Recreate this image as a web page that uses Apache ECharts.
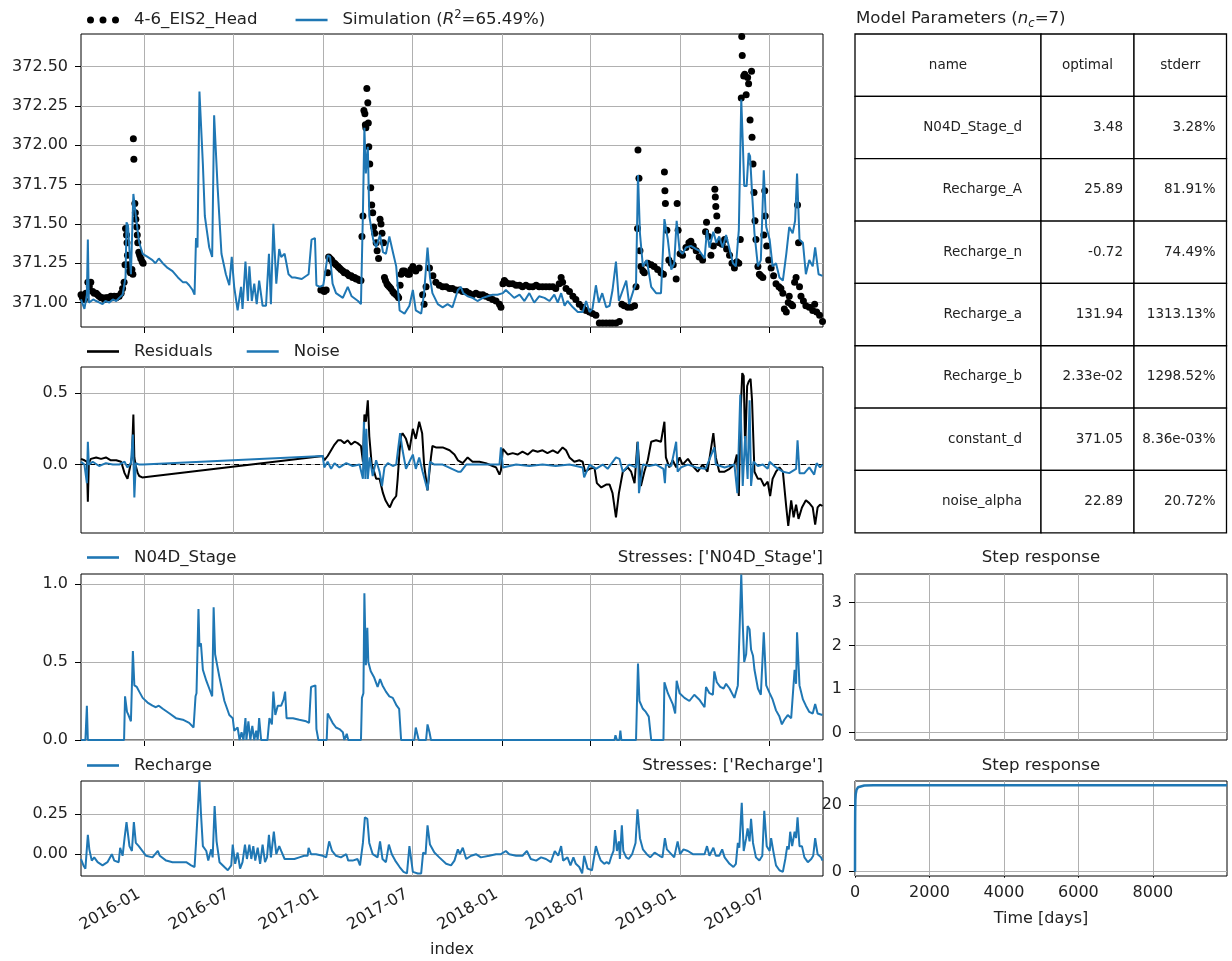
<!DOCTYPE html>
<html><head><meta charset="utf-8">
<script src="https://cdn.jsdelivr.net/npm/echarts@6/dist/echarts.min.js"></script>
<style>html,body{margin:0;padding:0;background:#fff}#c{width:1232px;height:961px}</style>
</head><body><div id="c"></div>
<script>
// ---------------- DATA ----------------
const START = '2015-08-25';   // first day of the series (day offset 0)
const END_DAY = 1516;         // last day offset (2019-10-19)
const xTickDates = ['2016-01-01','2016-07-01','2017-01-01','2017-07-01','2018-01-01','2018-07-01','2019-01-01','2019-07-01'];
const headTicks = [371.00,371.25,371.50,371.75,372.00,372.25,372.50];
const resTicks = [0.0,0.5];
const stageTicks = [0.0,0.5,1.0];
const rechTicks = [0.00,0.25];
const stepTimeTicks = [0,2000,4000,6000,8000];
const step1Ticks = [0,1,2,3];
const step2Ticks = [0,20];

// observations [dayOffset, head]
const obsPts = [[0,371.05],[3,371.03],[7,371.02],[10,371.06],[14,371.13],[17,371.10],[20,371.13],[24,371.07],[27,371.06],[31,371.06],[34,371.05],[37,371.04],[41,371.03],[44,371.03],[48,371.02],[51,371.03],[54,371.03],[58,371.03],[61,371.04],[65,371.03],[68,371.04],[72,371.03],[75,371.04],[78,371.04],[82,371.06],[85,371.09],[88,371.13],[90,371.24],[91,371.47],[93,371.43],[94,371.38],[95,371.30],[97,371.24],[99,371.20],[101,371.19],[104,371.21],[106,371.18],[107,372.04],[108,371.91],[110,371.63],[111,371.57],[112,371.53],[114,371.48],[115,371.43],[116,371.38],[118,371.32],[120,371.30],[122,371.28],[125,371.26],[127,371.25],
[490,371.08],[494,371.08],[497,371.07],[501,371.08],[504,371.19],[506,371.29],[509,371.28],[512,371.27],[514,371.26],[518,371.25],[521,371.24],[525,371.23],[528,371.22],[531,371.21],[535,371.20],[538,371.19],[542,371.19],[545,371.18],[548,371.17],[552,371.17],[555,371.16],[559,371.16],[562,371.15],[565,371.15],[569,371.14],[572,371.14],[574,371.42],[576,371.55],[578,372.22],[580,372.20],[581,372.13],[582,372.11],[584,372.36],[586,372.27],[587,372.14],[588,371.99],[590,371.88],[592,371.73],[594,371.62],[596,371.57],[598,371.48],[600,371.44],[603,371.38],[605,371.33],[608,371.28],[611,371.53],[613,371.50],[615,371.44],[618,371.38],[620,371.16],[622,371.14],[625,371.12],[627,371.11],[630,371.10],[633,371.09],[637,371.07],[640,371.06],[644,371.05],[647,371.04],[649,371.03],[652,371.11],[654,371.18],[657,371.20],[661,371.20],[664,371.19],[668,371.18],[671,371.18],[674,371.21],[678,371.23],[684,371.20],[691,371.22],[698,371.05],[701,370.99],[705,371.10],[712,371.22],[719,371.17],[725,371.13],[732,371.11],[739,371.10],[746,371.10],[753,371.09],[759,371.09],[766,371.08],[773,371.08],[780,371.07],[787,371.07],[793,371.06],[800,371.05],[807,371.06],[814,371.05],[821,371.05],[827,371.04],[834,371.03],[841,371.02],[848,371.01],[855,370.99],[858,370.97],[862,371.12],[865,371.14],[868,371.13],[875,371.12],[882,371.12],[889,371.11],[896,371.11],[902,371.10],[909,371.11],[916,371.10],[923,371.10],[930,371.11],[936,371.10],[943,371.10],[950,371.10],[957,371.10],[964,371.10],[970,371.09],[977,371.12],[981,371.16],[984,371.13],[991,371.09],[998,371.07],[1005,371.04],[1011,371.02],[1018,370.99],[1025,370.97],[1032,370.95],[1039,370.94],[1045,370.93],[1052,370.92],[1059,370.87],[1066,370.87],[1073,370.87],[1080,370.87],[1086,370.87],[1093,370.87],[1100,370.88],[1105,370.99],[1110,370.98],[1117,370.97],[1124,370.97],[1131,370.98],[1134,371.10],[1137,371.47],[1138,371.97],[1140,371.79],[1142,371.33],[1144,371.23],[1148,371.20],[1151,371.19],[1158,371.25],[1165,371.24],[1171,371.23],[1178,371.21],[1185,371.19],[1190,371.18],[1192,371.83],[1193,371.71],[1194,371.63],[1197,371.46],[1201,371.27],[1206,371.25],[1210,371.24],[1216,371.15],[1218,371.63],[1220,371.46],[1224,371.31],[1229,371.30],[1236,371.35],[1242,371.38],[1246,371.39],[1251,371.36],[1257,371.33],[1263,371.29],[1270,371.27],[1276,371.45],[1278,371.51],[1282,371.42],[1287,371.30],[1292,371.36],[1295,371.72],[1296,371.67],[1297,371.61],[1299,371.55],[1301,371.46],[1304,371.38],[1310,371.37],[1315,371.40],[1319,371.34],[1325,371.30],[1330,371.25],[1335,371.22],[1340,371.26],[1344,371.25],[1347,371.40],[1349,372.30],[1350,372.69],[1351,372.57],[1354,372.44],[1356,372.45],[1359,372.32],[1362,372.43],[1364,372.39],[1367,372.16],[1370,372.47],[1371,372.05],[1373,371.88],[1375,371.70],[1377,371.52],[1379,371.40],[1383,371.23],[1386,371.18],[1389,371.17],[1393,371.16],[1395,371.43],[1397,371.71],[1398,371.55],[1401,371.36],[1405,371.27],[1410,371.22],[1415,371.17],[1420,371.12],[1426,371.10],[1430,371.09],[1434,371.06],[1437,370.96],[1441,370.94],[1445,371.00],[1447,371.04],[1451,370.99],[1454,370.98],[1458,371.13],[1461,371.16],[1464,371.62],[1466,371.38],[1468,371.10],[1471,371.04],[1476,371.01],[1481,370.98],[1488,370.97],[1495,370.95],[1499,370.99],[1503,370.94],[1509,370.92],[1515,370.88]];

// simulation [dayOffset, head]
const simPts = [[0,371.02],[7,370.96],[12,371.05],[14,371.40],[16,371.00],[20,370.99],[25,371.02],[31,371.01],[38,371.00],[44,370.99],[50,371.01],[58,371.00],[65,371.02],[72,371.01],[78,371.03],[85,371.05],[91,371.16],[93,371.51],[96,371.49],[99,371.48],[102,371.18],[107,371.69],[112,371.55],[119,371.38],[126,371.31],[136,371.29],[146,371.27],[152,371.25],[159,371.28],[167,371.25],[177,371.22],[187,371.20],[198,371.16],[208,371.13],[215,371.13],[221,371.11],[228,371.08],[232,371.05],[235,371.41],[238,371.35],[242,372.34],[249,371.88],[253,371.55],[257,371.46],[262,371.35],[268,371.29],[272,372.19],[279,371.74],[287,371.31],[296,371.18],[303,371.11],[308,371.29],[313,371.10],[320,370.95],[327,371.10],[330,370.96],[336,371.26],[341,371.01],[344,371.23],[349,371.01],[354,371.12],[359,370.99],[364,371.14],[371,370.98],[378,370.98],[384,371.31],[388,370.99],[393,371.50],[399,371.12],[405,371.34],[409,371.29],[416,371.31],[424,371.18],[431,371.16],[437,371.16],[451,371.15],[465,371.18],[471,371.40],[478,371.41],[481,371.11],[488,371.10],[495,371.11],[504,371.30],[509,371.29],[514,371.12],[521,371.06],[535,371.03],[545,371.10],[553,371.04],[566,371.01],[572,370.99],[576,371.57],[579,372.11],[582,371.82],[586,371.99],[589,371.55],[597,371.40],[603,371.35],[611,371.43],[617,371.32],[623,371.31],[630,371.42],[638,371.31],[644,371.23],[651,370.95],[661,370.93],[671,370.98],[678,371.08],[684,370.95],[695,370.93],[701,371.06],[708,371.35],[713,371.16],[718,371.06],[729,370.99],[739,370.97],[749,370.99],[759,370.97],[770,371.08],[776,371.10],[781,371.06],[790,371.04],[800,371.03],[810,371.01],[821,371.03],[831,371.04],[841,371.05],[851,371.05],[862,371.06],[868,371.08],[875,371.06],[885,371.03],[896,371.05],[906,371.01],[916,371.06],[926,371.00],[936,371.04],[947,371.03],[957,371.01],[967,371.05],[974,371.00],[981,371.06],[988,370.98],[994,371.01],[1005,370.97],[1015,370.94],[1025,370.94],[1032,371.01],[1039,370.94],[1045,370.96],[1052,371.11],[1058,371.00],[1065,371.06],[1073,370.97],[1080,370.98],[1086,371.08],[1093,371.26],[1099,371.01],[1107,371.08],[1114,371.14],[1120,370.99],[1129,371.08],[1134,371.12],[1138,371.81],[1142,371.44],[1148,371.23],[1156,371.27],[1165,371.10],[1175,371.06],[1185,371.06],[1192,371.53],[1199,371.40],[1206,371.21],[1212,371.25],[1217,371.52],[1223,371.33],[1229,371.31],[1236,371.35],[1246,371.36],[1257,371.34],[1263,371.33],[1274,371.28],[1279,371.46],[1284,371.35],[1292,371.45],[1298,371.38],[1304,371.42],[1311,371.35],[1318,371.43],[1325,371.34],[1332,371.25],[1338,371.23],[1344,371.46],[1349,372.29],[1352,372.03],[1355,371.74],[1360,371.74],[1364,371.95],[1367,371.93],[1371,371.70],[1376,371.44],[1383,371.23],[1389,371.27],[1395,371.84],[1400,371.48],[1407,371.40],[1413,371.23],[1420,371.25],[1427,371.16],[1434,371.14],[1441,371.31],[1447,371.48],[1454,371.44],[1459,371.52],[1463,371.82],[1468,371.40],[1475,371.38],[1481,371.18],[1488,371.27],[1495,371.23],[1500,371.35],[1507,371.18],[1515,371.17]];

// residuals [dayOffset, value]
const residPts = [[0,0.04],[7,0.03],[12,0.02],[14,-0.26],[16,0.01],[20,0.04],[31,0.05],[41,0.04],[51,0.05],[61,0.03],[72,0.03],[82,0.02],[89,-0.06],[95,-0.10],[100,-0.02],[104,0.05],[107,0.35],[109,0.05],[112,-0.01],[116,-0.06],[119,-0.08],[125,-0.09],[127,-0.09],[494,0.06],[497,0.03],[504,0.06],[511,0.10],[518,0.14],[525,0.17],[531,0.17],[538,0.15],[545,0.17],[552,0.14],[559,0.16],[565,0.15],[572,0.13],[576,0.02],[579,0.35],[582,0.30],[586,0.45],[589,0.20],[594,0.00],[599,-0.05],[603,-0.10],[610,-0.10],[617,-0.20],[622,-0.25],[627,-0.28],[631,-0.30],[637,-0.25],[644,-0.22],[647,-0.10],[651,0.10],[654,0.20],[657,0.22],[664,0.18],[671,0.10],[678,0.25],[684,0.18],[691,0.30],[697,0.22],[701,0.00],[708,-0.18],[715,0.05],[718,0.13],[725,0.12],[739,0.12],[753,0.10],[763,0.07],[770,0.03],[780,0.01],[790,0.05],[800,0.02],[814,0.02],[827,0.01],[841,-0.01],[848,-0.02],[855,-0.07],[858,-0.04],[862,0.11],[872,0.07],[882,0.08],[892,0.07],[902,0.09],[913,0.07],[923,0.10],[933,0.09],[943,0.10],[953,0.08],[964,0.10],[974,0.08],[984,0.12],[991,0.10],[998,0.05],[1008,0.02],[1018,0.03],[1025,0.02],[1030,-0.05],[1039,-0.03],[1049,-0.02],[1054,-0.13],[1063,-0.16],[1073,-0.14],[1080,-0.14],[1086,-0.20],[1093,-0.37],[1099,-0.20],[1107,-0.05],[1117,-0.02],[1124,-0.05],[1131,-0.13],[1137,0.16],[1144,-0.15],[1151,-0.05],[1158,0.03],[1165,0.16],[1175,0.17],[1185,0.16],[1192,0.30],[1195,0.05],[1202,-0.02],[1209,0.03],[1216,-0.02],[1223,0.05],[1229,0.00],[1240,0.04],[1250,-0.01],[1260,-0.05],[1270,0.00],[1280,-0.05],[1292,0.22],[1297,0.05],[1304,-0.05],[1315,-0.05],[1325,-0.03],[1335,0.00],[1340,0.07],[1344,-0.22],[1347,0.30],[1351,0.64],[1354,0.62],[1357,0.10],[1361,0.55],[1364,0.58],[1368,0.60],[1371,0.45],[1376,-0.05],[1383,-0.10],[1389,-0.10],[1396,-0.15],[1403,-0.12],[1408,-0.22],[1413,-0.10],[1420,-0.05],[1427,-0.02],[1434,-0.05],[1441,-0.30],[1445,-0.43],[1451,-0.25],[1456,-0.37],[1461,-0.28],[1466,-0.38],[1473,-0.30],[1481,-0.25],[1488,-0.27],[1495,-0.30],[1500,-0.42],[1505,-0.30],[1510,-0.28],[1515,-0.29]];

// noise [dayOffset, value]
const noisePts = [[0,0.02],[7,0.00],[12,-0.13],[14,0.16],[16,0.00],[24,0.02],[37,-0.01],[51,0.01],[65,0.00],[78,0.00],[89,0.02],[95,-0.02],[102,0.01],[106,0.21],[109,-0.23],[112,0.01],[119,0.00],[127,0.00],[494,0.06],[497,-0.02],[504,0.02],[511,-0.03],[518,0.01],[528,-0.02],[542,0.01],[555,-0.01],[569,0.00],[576,-0.10],[578,0.30],[581,-0.10],[583,0.25],[586,-0.10],[590,0.05],[596,-0.08],[603,0.03],[610,-0.05],[615,-0.15],[620,-0.02],[627,0.01],[637,-0.01],[644,0.00],[649,0.14],[652,0.22],[657,0.10],[664,-0.03],[671,0.02],[678,0.07],[684,-0.03],[691,0.05],[698,-0.05],[708,-0.18],[713,0.02],[722,0.00],[739,0.00],[770,-0.05],[776,-0.05],[787,0.00],[807,0.00],[834,0.00],[855,0.00],[858,0.12],[862,-0.02],[889,0.00],[916,-0.01],[943,0.00],[970,-0.01],[998,0.00],[1025,-0.02],[1028,-0.09],[1039,0.00],[1052,-0.03],[1066,0.00],[1076,-0.03],[1093,0.05],[1100,0.04],[1107,-0.05],[1120,0.00],[1134,-0.02],[1138,0.16],[1140,-0.20],[1148,0.00],[1161,-0.01],[1175,0.00],[1190,-0.03],[1193,-0.13],[1195,0.00],[1206,-0.01],[1216,0.16],[1219,-0.05],[1226,-0.02],[1240,0.00],[1257,-0.02],[1276,-0.03],[1294,0.12],[1297,0.00],[1315,-0.02],[1335,0.00],[1341,-0.20],[1347,0.49],[1352,-0.15],[1357,0.20],[1362,-0.10],[1366,0.45],[1369,-0.15],[1374,0.02],[1383,-0.01],[1393,0.00],[1403,-0.03],[1407,0.02],[1420,-0.02],[1434,-0.05],[1447,-0.06],[1461,-0.03],[1464,0.17],[1468,-0.06],[1478,-0.06],[1488,-0.02],[1498,-0.07],[1503,0.01],[1510,-0.02],[1515,0.00]];

// N04D_Stage contribution [dayOffset, value]
const stagePts = [[0,0],[9,0],[12,0.22],[14,0],[88,0],[90,0.28],[94,0.18],[97,0.16],[102,0.12],[106,0.57],[109,0.35],[114,0.34],[119,0.31],[126,0.27],[136,0.24],[146,0.22],[153,0.21],[159,0.22],[167,0.20],[181,0.17],[194,0.14],[208,0.13],[221,0.11],[230,0.08],[234,0.28],[236,0.30],[240,0.84],[242,0.60],[245,0.62],[249,0.45],[256,0.38],[262,0.33],[268,0.28],[271,0.85],[274,0.55],[283,0.40],[293,0.25],[303,0.16],[310,0.14],[313,0.06],[320,0.08],[324,0],[328,0.05],[332,0],[336,0.14],[338,0],[342,0.12],[346,0],[350,0.09],[354,0],[358,0.06],[361,0],[364,0.14],[368,0],[381,0],[385,0.14],[390,0.10],[393,0.31],[397,0.16],[402,0.22],[409,0.22],[414,0.26],[417,0.31],[420,0.14],[433,0.14],[446,0.13],[460,0.12],[466,0.11],[470,0.34],[479,0.35],[481,0.07],[485,0],[502,0],[504,0.17],[507,0.16],[514,0.11],[521,0.08],[528,0.07],[535,0.05],[538,0],[543,0.04],[546,0],[572,0],[574,0.27],[577,0.30],[579,0.94],[582,0.48],[585,0.72],[587,0.50],[592,0.44],[599,0.40],[606,0.34],[611,0.39],[616,0.35],[623,0.31],[630,0.28],[637,0.27],[645,0.22],[650,0.20],[654,0],[681,0],[684,0.08],[688,0.08],[690,0],[705,0],[708,0.10],[712,0.05],[715,0],[776,0],[777,0.01],[780,0],[1049,0],[1052,0.01],[1056,0],[1090,0],[1092,0.03],[1095,0],[1100,0],[1102,0.06],[1104,0],[1134,0],[1136,0.25],[1138,0.49],[1141,0.25],[1148,0.20],[1154,0.18],[1160,0.15],[1165,0],[1190,0],[1192,0.37],[1199,0.30],[1209,0.23],[1214,0.17],[1217,0.38],[1223,0.30],[1233,0.27],[1243,0.25],[1253,0.29],[1263,0.26],[1274,0.21],[1277,0.34],[1284,0.30],[1291,0.29],[1294,0.44],[1299,0.37],[1306,0.34],[1313,0.33],[1318,0.36],[1325,0.33],[1335,0.27],[1342,0.35],[1345,0.35],[1349,1.06],[1352,0.75],[1355,0.50],[1359,0.55],[1362,0.73],[1366,0.71],[1369,0.58],[1373,0.54],[1376,0.45],[1383,0.33],[1389,0.29],[1395,0.69],[1400,0.35],[1407,0.30],[1413,0.26],[1420,0.19],[1427,0.15],[1432,0.10],[1437,0.13],[1444,0.16],[1451,0.14],[1458,0.45],[1461,0.36],[1463,0.69],[1468,0.35],[1475,0.26],[1481,0.22],[1488,0.18],[1495,0.17],[1500,0.23],[1505,0.17],[1515,0.16]];

// Recharge contribution [dayOffset, value]
const rechPts = [[0,-0.03],[5,-0.07],[9,-0.09],[14,0.12],[17,0.03],[22,-0.04],[27,-0.02],[34,-0.05],[44,-0.07],[54,-0.05],[63,0.00],[68,-0.04],[77,-0.05],[80,0.04],[85,-0.01],[89,0.10],[93,0.20],[99,0.05],[104,0.02],[108,0.20],[112,0.07],[118,0.05],[123,0.03],[133,-0.01],[146,-0.02],[157,0.02],[161,-0.01],[174,-0.04],[187,-0.05],[201,-0.05],[215,-0.05],[225,-0.07],[232,-0.08],[235,0.07],[239,0.06],[242,0.46],[245,0.26],[249,0.05],[256,0.02],[260,-0.04],[266,0.03],[269,-0.02],[273,0.30],[277,0.08],[283,-0.05],[293,-0.08],[300,-0.10],[307,-0.07],[310,0.06],[315,-0.06],[320,0.01],[325,-0.09],[330,-0.05],[335,0.06],[339,-0.03],[344,0.06],[348,-0.03],[352,0.05],[356,-0.04],[361,0.04],[366,-0.06],[371,0.06],[376,-0.05],[380,-0.02],[384,0.12],[388,-0.02],[394,0.14],[399,0.00],[405,0.05],[409,0.02],[416,-0.03],[426,-0.03],[436,-0.03],[446,-0.02],[456,-0.01],[463,-0.01],[465,0.04],[470,0.00],[480,0.00],[494,-0.01],[501,-0.02],[507,0.08],[513,0.02],[521,-0.01],[531,-0.02],[542,0.00],[546,-0.04],[555,-0.04],[565,-0.03],[570,-0.07],[576,0.07],[580,0.23],[585,0.22],[589,0.07],[596,0.00],[606,-0.02],[611,0.08],[616,-0.03],[623,-0.05],[629,0.06],[635,0.00],[642,-0.04],[651,-0.08],[659,-0.11],[666,-0.12],[671,0.05],[678,-0.11],[688,-0.12],[695,-0.12],[699,0.01],[704,0.00],[708,0.18],[713,0.06],[722,0.01],[732,-0.02],[746,-0.06],[756,-0.07],[763,-0.04],[770,0.03],[774,0.00],[780,0.04],[787,-0.03],[797,-0.01],[807,0.00],[817,-0.02],[834,-0.01],[848,0.00],[858,0.00],[868,0.02],[875,0.00],[889,-0.01],[902,-0.01],[911,0.02],[919,-0.03],[930,-0.04],[940,-0.02],[950,-0.03],[960,-0.05],[968,0.02],[975,-0.01],[981,0.05],[985,-0.04],[994,-0.02],[1000,-0.07],[1006,-0.02],[1011,-0.06],[1018,-0.08],[1024,-0.12],[1028,-0.01],[1035,-0.09],[1044,-0.10],[1052,0.05],[1057,0.00],[1062,-0.04],[1069,-0.06],[1074,-0.05],[1079,-0.06],[1084,-0.01],[1088,0.02],[1091,0.15],[1095,0.02],[1099,0.08],[1101,-0.03],[1105,0.18],[1108,0.02],[1114,-0.02],[1119,-0.03],[1126,0.00],[1133,0.07],[1137,0.28],[1142,0.10],[1148,0.03],[1156,0.00],[1163,-0.02],[1172,0.01],[1182,-0.01],[1188,-0.02],[1193,0.10],[1197,0.03],[1206,0.00],[1212,-0.02],[1219,0.08],[1224,0.00],[1231,0.03],[1240,0.02],[1250,0.00],[1263,0.00],[1274,0.00],[1279,0.05],[1284,-0.01],[1292,0.04],[1297,-0.01],[1304,-0.01],[1310,0.03],[1315,-0.02],[1325,-0.06],[1333,-0.08],[1338,-0.06],[1342,0.07],[1345,0.04],[1350,0.32],[1354,0.02],[1359,0.10],[1362,0.16],[1366,0.08],[1369,0.22],[1373,0.07],[1379,-0.02],[1386,-0.04],[1392,-0.01],[1396,0.27],[1401,0.05],[1407,0.02],[1410,0.10],[1415,0.01],[1420,-0.07],[1427,-0.10],[1434,-0.11],[1439,-0.03],[1443,0.05],[1446,0.03],[1449,0.14],[1453,0.05],[1458,0.14],[1461,0.10],[1464,0.23],[1468,0.05],[1473,0.05],[1478,-0.02],[1485,-0.05],[1492,-0.03],[1496,-0.01],[1500,0.10],[1505,0.00],[1512,-0.02],[1515,-0.04]];

// Recharge step response
const stepT = [0,2,5,10,20,40,80,130,250,500,2000,6000,9990];
const stepV = [0,12,18,21.5,23.3,24.5,25.3,25.7,25.85,25.89,25.89,25.89,25.89];

// model parameter table
const paramNames = ['N04D_Stage_d','Recharge_A','Recharge_n','Recharge_a','Recharge_b','constant_d','noise_alpha'];
const paramOptimal = [3.48,25.89,-0.72,131.94,0.0233,371.05,22.89];
const paramStderrPct = [3.28,81.91,74.49,1313.13,1298.52,0.00836,20.72];

// ---------------- CHART ----------------
const FONT = 'DejaVu Sans';
const TXT = '#222';
const FS = 16;      // tick labels
const FST = 16.6;   // legends / titles
const BLUE = '#1f77b4';
const t0 = Date.parse(START + 'T00:00:00Z');
const toT = d => t0 + d * 86400000;
const xTicksT = xTickDates.map(s => Date.parse(s + 'T00:00:00Z'));
const fmtMonth = v => { const d = new Date(v); return d.getUTCFullYear() + '-' + String(d.getUTCMonth() + 1).padStart(2, '0'); };
const conv = pts => pts.map(p => [toT(p[0]), p[1]]);

const GRIDS = [
  {left:81, top:34, width:742, height:293},
  {left:81, top:367, width:742, height:166},
  {left:81, top:574, width:742, height:166},
  {left:81, top:781, width:742, height:95},
  {left:855, top:574, width:372, height:166},
  {left:855, top:781, width:372, height:95}
];
const YR = [
  {min:370.845, max:372.706, ticks:headTicks, dec:2},
  {min:-0.479, max:0.683, ticks:resTicks, dec:1},
  {min:0, max:1.064, ticks:stageTicks, dec:1},
  {min:-0.136, max:0.456, ticks:rechTicks, dec:2},
  {min:-0.174, max:3.654, ticks:step1Ticks, dec:0},
  {min:-1.29, max:27.18, ticks:step2Ticks, dec:0}
];
const lbl = {fontFamily:FONT, fontSize:FS, color:TXT};
const lblT = {fontFamily:FONT, fontSize:FST, color:TXT};

const xAxes = [];
for (let i = 0; i < 4; i++) {
  xAxes.push({type:'value', gridIndex:i, min:toT(0), max:toT(END_DAY), scale:true,
    axisLine:{show:false}, splitLine:{show:false},
    axisTick:{show:true, customValues:xTicksT, length:6, lineStyle:{color:'#000', width:1}},
    axisLabel:Object.assign({show:i === 3, customValues:xTicksT, formatter:fmtMonth, rotate:30, margin:14, padding:[0,6,0,0]}, lbl),
    name:i === 3 ? 'index' : '', nameLocation:'middle', nameGap:66, nameTextStyle:lbl});
}
for (let i = 4; i < 6; i++) {
  xAxes.push({type:'value', gridIndex:i, min:0, max:9990,
    axisLine:{show:false}, splitLine:{show:false},
    axisTick:{show:true, customValues:stepTimeTicks, length:6, lineStyle:{color:'#000', width:1}},
    axisLabel:Object.assign({show:i === 5, customValues:stepTimeTicks, formatter:v => String(v), margin:9}, lbl),
    name:i === 5 ? 'Time [days]' : '', nameLocation:'middle', nameGap:35, nameTextStyle:lbl});
}
const yAxes = YR.map((r, i) => ({type:'value', gridIndex:i, min:r.min, max:r.max, scale:true,
  axisLine:{show:false}, splitLine:{show:false},
  axisTick:{show:true, customValues:r.ticks, length:6, lineStyle:{color:'#000', width:1}},
  axisLabel:Object.assign({customValues:r.ticks, formatter:v => Number(v).toFixed(r.dec), margin:13}, lbl)}));

function gridLines(i, xs, ys, extra) {
  return {type:'line', name:'_grid' + i, xAxisIndex:i, yAxisIndex:i, data:[], silent:true, z:1,
    markLine:{silent:true, z:1, symbol:['none','none'], label:{show:false}, animation:false,
      lineStyle:{color:'#b0b0b0', width:1, type:'solid'},
      data:[...xs.map(v => ({xAxis:v})), ...ys.map(v => ({yAxis:v})), ...(extra || [])]}};
}
const lineS = (name, i, pts, color, z, w) => ({type:'line', name, xAxisIndex:i, yAxisIndex:i, data:pts,
  showSymbol:false, symbol:'none', color, lineStyle:{color, width:w || 2}, z, clip:true, silent:true});

const series = [
  gridLines(0, xTicksT, headTicks),
  gridLines(1, xTicksT, resTicks, [{yAxis:0, lineStyle:{color:'#000', type:[5,4], width:1}}]),
  gridLines(2, xTicksT, stageTicks),
  gridLines(3, xTicksT, rechTicks),
  gridLines(4, stepTimeTicks, step1Ticks),
  gridLines(5, stepTimeTicks, step2Ticks),
  {type:'scatter', name:'4-6_EIS2_Head', xAxisIndex:0, yAxisIndex:0, data:conv(obsPts), symbol:'circle', symbolSize:7,
    color:'#000', itemStyle:{color:'#000', opacity:1}, z:3, silent:true, clip:true},
  lineS('Simulation', 0, conv(simPts), BLUE, 4, 2),
  lineS('Residuals', 1, conv(residPts), '#000', 3, 2),
  lineS('Noise', 1, conv(noisePts), BLUE, 4, 2),
  lineS('N04D_Stage', 2, conv(stagePts), BLUE, 3, 2),
  lineS('Recharge', 3, conv(rechPts), BLUE, 3, 2),
  lineS('Recharge step', 5, stepT.map((t, k) => [t, stepV[k]]), BLUE, 3, 2.5)
];

const LINE_ICON = 'path://M0,0h32v2.6h-32z';
const DOTS_ICON = 'path://M0,3.5a3.5,3.5 0 1,0 7,0a3.5,3.5 0 1,0 -7,0zM12.5,3.5a3.5,3.5 0 1,0 7,0a3.5,3.5 0 1,0 -7,0zM25,3.5a3.5,3.5 0 1,0 7,0a3.5,3.5 0 1,0 -7,0z';
const richBase = {
  g:{width:10},
  i:{fontStyle:'italic', fontSize:FST, fontFamily:FONT, color:TXT},
  s:{fontSize:11.5, fontFamily:FONT, color:TXT, padding:[0,0,10,0]}
};
const legendBase = {orient:'horizontal', padding:0, itemWidth:32, itemHeight:8, itemGap:38, symbolKeepAspect:true,
  selectedMode:false, textStyle:Object.assign({rich:richBase}, lblT),
  formatter:n => n === 'Simulation' ? '{g| }Simulation ({i|R}{s|2}=65.49%)' : '{g| }' + n};
const legends = [
  Object.assign({}, legendBase, {left:87, top:9, data:[{name:'4-6_EIS2_Head', icon:DOTS_ICON}, {name:'Simulation', icon:LINE_ICON}]}),
  Object.assign({}, legendBase, {left:87, top:343, itemGap:34, data:[{name:'Residuals', icon:LINE_ICON}, {name:'Noise', icon:LINE_ICON}]}),
  Object.assign({}, legendBase, {left:87, top:549, data:[{name:'N04D_Stage', icon:LINE_ICON}]}),
  Object.assign({}, legendBase, {left:87, top:757, data:[{name:'Recharge', icon:LINE_ICON}]})
];

const tStyle = Object.assign({fontWeight:'normal'}, lblT);
const titles = [
  {text:'{a|Model Parameters (}{i|n}{b|c}{a|=7)}', left:856, top:8, padding:0,
    textStyle:Object.assign({}, tStyle, {rich:{
      a:{fontSize:FST, fontFamily:FONT, color:TXT},
      i:{fontSize:FST, fontFamily:FONT, color:TXT, fontStyle:'italic'},
      b:{fontSize:11.5, fontFamily:FONT, color:TXT, fontStyle:'italic', padding:[10,0,0,0]}}})},
  {text:"Stresses: ['N04D_Stage']", right:409, top:549, padding:0, textStyle:tStyle},
  {text:"Stresses: ['Recharge']", right:409, top:757, padding:0, textStyle:tStyle},
  {text:'Step response', left:1041, textAlign:'center', top:549, padding:0, textStyle:tStyle},
  {text:'Step response', left:1041, textAlign:'center', top:757, padding:0, textStyle:tStyle}
];

// parameter table as graphic
function fmtNum(v) {
  if (v !== 0 && Math.abs(v) < 0.1) {
    return v.toExponential(2).replace(/e([+-])(\d)$/, 'e$10$2');
  }
  return v.toFixed(2);
}
const TBL = {left:855, top:34, colW:[186, 93, 92.5], padR:[19, 11, 11], rowH:62.35};
const tableRows = [['name','optimal','stderr']].concat(
  paramNames.map((n, k) => [n, fmtNum(paramOptimal[k]), fmtNum(paramStderrPct[k]) + '%']));
const graphics = [];
tableRows.forEach((row, r) => {
  let x = TBL.left;
  const y = TBL.top + r * TBL.rowH;
  row.forEach((txt, c) => {
    const w = TBL.colW[c];
    graphics.push({type:'rect', silent:true, z:0, shape:{x:x, y:y, width:w, height:TBL.rowH},
      style:{fill:'#fff', stroke:'#000', lineWidth:1.3}});
    const tx = r === 0 ? x + w / 2 : x + w - TBL.padR[c];
    const al = r === 0 ? 'center' : 'right';
    graphics.push({type:'text', silent:true, z:1, x:tx, y:y + TBL.rowH / 2,
      style:{text:txt, x:0, y:0, align:al, textAlign:al, verticalAlign:'middle', textVerticalAlign:'middle',
        font:'13.5px "DejaVu Sans"', fontSize:13.5, fontFamily:FONT, fill:TXT}});
    x += w;
  });
});

const chart = echarts.init(document.getElementById('c'), null, {renderer:'canvas', width:1232, height:961});
chart.setOption({
  animation:false,
  backgroundColor:'#fff',
  textStyle:{fontFamily:FONT},
  title:titles,
  legend:legends,
  grid:GRIDS.map(g => Object.assign({show:true, borderColor:'#000', borderWidth:1, backgroundColor:'transparent',
    containLabel:false, outerBoundsMode:'none'}, g)),
  xAxis:xAxes,
  yAxis:yAxes,
  series:series,
  graphic:{elements:graphics}
});
</script>
</body></html>
